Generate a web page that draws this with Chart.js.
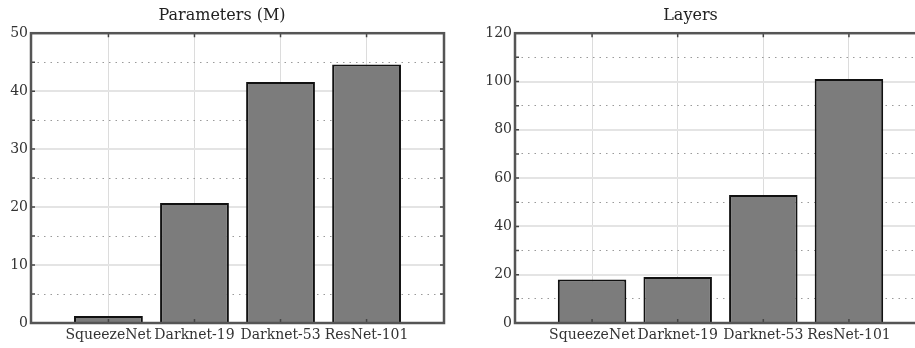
<!DOCTYPE html>
<html>
<head>
<meta charset="utf-8">
<script src="https://cdn.jsdelivr.net/npm/chart.js@4/dist/chart.umd.min.js"></script>
<style>
  html, body { margin: 0; padding: 0; background: #fff; overflow: hidden; width: 915px; height: 348px; }
  .box { position: absolute; top: 0; height: 348px; }
</style>
</head>
<body>
<div class="box" style="left:0"><canvas id="params" width="455" height="348"></canvas></div>
<div class="box" style="left:455px"><canvas id="layers" width="482" height="348"></canvas></div>
<script>
'use strict';

var models = ['SqueezeNet', 'Darknet-19', 'Darknet-53', 'ResNet-101'];
var positions = [1, 2, 3, 4];   // bar positions on the x axis

var params = [1.2, 20.7, 41.6, 44.6];   // millions
var layers = [18, 19, 53, 101];

var paramsAxis = { min: 0, max: 50, major: 10, minor: 5 };
var layersAxis = { min: 0, max: 120, major: 20, minor: 10 };

var serif = 'DejaVu Serif';
var textColor = '#333';

// frame round the plot area with small inward ticks, like matplotlib's box
var framePlugin = {
  id: 'frame',
  afterDatasetsDraw: function(chart) {
    let ctx = chart.ctx;
    let a = chart.chartArea;
    let x = chart.scales.x, y = chart.scales.y, y2 = chart.scales.y2;
    ctx.save();
    ctx.strokeStyle = '#444';
    ctx.lineWidth = 1.5;
    ctx.beginPath();
    y2.ticks.forEach(function(t) {
      let py = y.getPixelForValue(t.value);
      ctx.moveTo(a.left, py); ctx.lineTo(a.left + 4, py);
      ctx.moveTo(a.right, py); ctx.lineTo(a.right - 4, py);
    });
    x.ticks.forEach(function(t) {
      let px = x.getPixelForValue(t.value);
      ctx.moveTo(px, a.top); ctx.lineTo(px, a.top + 4);
      ctx.moveTo(px, a.bottom); ctx.lineTo(px, a.bottom - 4);
    });
    ctx.stroke();
    ctx.strokeStyle = '#555';
    ctx.lineWidth = 2.5;
    ctx.strokeRect(a.left, a.top, a.right - a.left, a.bottom - a.top);
    ctx.restore();
  }
};

function makeChart(id, title, values, axis, yWidth) {
  let ctx = document.getElementById(id).getContext('2d');
  return new Chart(ctx, {
    type: 'bar',
    data: {
      datasets: [{
        data: values.map(function(v, i) { return { x: positions[i], y: v }; }),
        backgroundColor: '#7c7c7c',
        borderColor: '#111',
        borderWidth: 2,
        barPercentage: 1.0,
        categoryPercentage: 0.8
      }]
    },
    options: {
      responsive: false,
      animation: false,
      events: [],
      layout: { padding: { left: 0, right: 11, top: 0, bottom: 0 } },
      plugins: {
        legend: { display: false },
        tooltip: { enabled: false },
        title: {
          display: true,
          text: title,
          color: '#222',
          font: { family: serif, size: 16, weight: 'normal' },
          padding: { top: 6, bottom: 8 }
        }
      },
      scales: {
        x: {
          type: 'linear',
          min: 0.1,
          max: 4.9,
          offset: false,
          afterBuildTicks: function(s) {
            s.ticks = positions.map(function(v) { return { value: v }; });
          },
          afterFit: function(s) { s.height = 25; },
          grid: { color: '#dcdcdc', lineWidth: 1, drawTicks: false, offset: false },
          border: { display: false },
          ticks: {
            autoSkip: false,
            maxRotation: 0,
            padding: 4,
            color: textColor,
            font: { family: serif, size: 14 },
            callback: function(v, i) { return models[i]; }
          }
        },
        y: {
          position: 'left',
          min: axis.min,
          max: axis.max,
          afterFit: function(s) { s.width = yWidth; },
          grid: { color: '#e4e4e4', lineWidth: 2, drawTicks: false },
          border: { display: false },
          ticks: {
            stepSize: axis.major,
            padding: 3,
            color: textColor,
            font: { family: serif, size: 14 }
          }
        },
        y2: {
          position: 'left',
          min: axis.min,
          max: axis.max,
          afterFit: function(s) { s.width = 0; },
          grid: {
            drawTicks: false,
            lineWidth: 1,
            color: function(c) {
              return (c.tick && c.tick.value % axis.major === 0) ? 'rgba(0,0,0,0)' : '#9a9a9a';
            }
          },
          border: { display: false, dash: [1.5, 5] },
          ticks: { stepSize: axis.minor, display: false }
        }
      }
    },
    plugins: [framePlugin]
  });
}

makeChart('params', 'Parameters (M)', params, paramsAxis, 31);
makeChart('layers', 'Layers', layers, layersAxis, 60);
</script>
</body>
</html>
